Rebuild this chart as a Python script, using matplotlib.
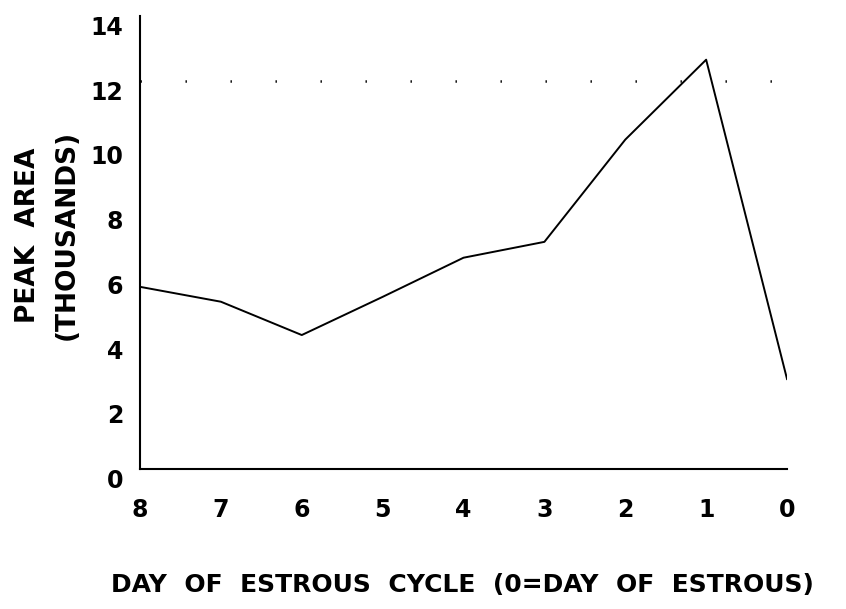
import matplotlib
matplotlib.use("Agg")
import matplotlib.pyplot as plt

# day of estrous cycle (8 days before -> day of estrous)
days = [8, 7, 6, 5, 4, 3, 2, 1, 0]
peak_area = [5.63, 5.17, 4.14, 5.32, 6.53, 7.02, 10.18, 12.65, 2.78]
x_ticks = [8, 7, 6, 5, 4, 3, 2, 1, 0]
y_ticks = [0, 2, 4, 6, 8, 10, 12, 14]
ref_level = 12

plt.rcParams['font.family'] = ['DejaVu Sans']
plt.rcParams['font.weight'] = 'bold'
plt.rcParams['lines.scale_dashes'] = False

fig = plt.figure(figsize=(8.46, 6.09), dpi=100)
ax = fig.add_axes([0.1655, 0.2299, 0.7648, 0.7438])

ax.plot(days, peak_area, color="black", lw=1.4)
ax.axhline(ref_level, color="black", lw=1.8, linestyle=(0, (1, 31.4)))

ax.set_xlim(8, 0)
ax.set_ylim(0, 14)
ax.set_xticks(x_ticks)
ax.set_yticks(y_ticks)
ax.tick_params(axis="x", length=0, pad=21, labelsize=17)
ax.tick_params(axis="y", length=0, pad=12, labelsize=17)
for lab in ax.get_yticklabels():
    lab.set_va("top")

for s in ["top", "right"]:
    ax.spines[s].set_visible(False)
for s in ["left", "bottom"]:
    ax.spines[s].set_linewidth(1.5)

fig.text(0.056, 0.614, "PEAK  AREA\n(THOUSANDS)", rotation=90, ha="center",
         va="center", multialignment="center", fontsize=19, linespacing=1.6)
fig.text(0.547, 0.039, "DAY  OF  ESTROUS  CYCLE  (0=DAY  OF  ESTROUS)",
         ha="center", va="center", fontsize=18)

fig.savefig("out.png", dpi=100)
